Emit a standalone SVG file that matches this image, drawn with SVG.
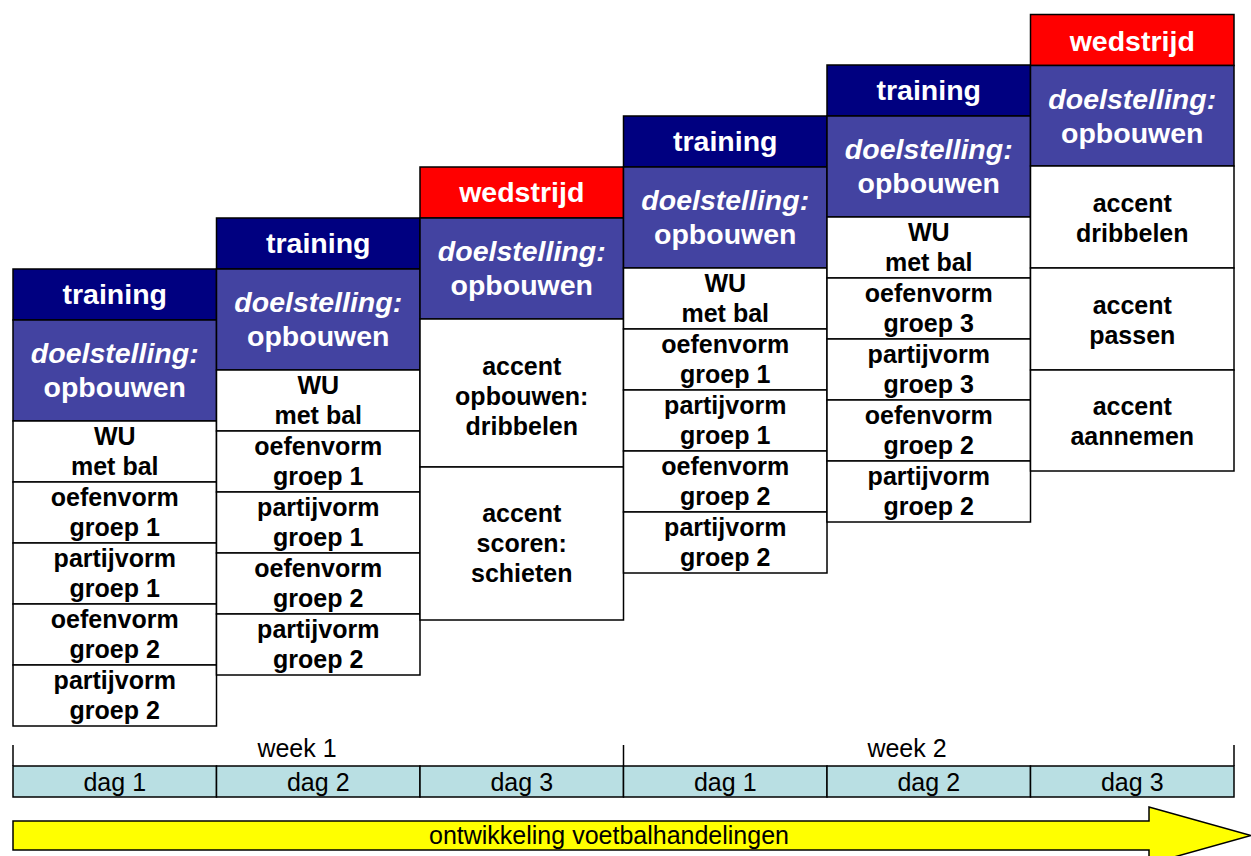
<svg xmlns="http://www.w3.org/2000/svg" width="1251" height="856" viewBox="0 0 1251 856">
<style>
.hd{stroke:#000;stroke-width:1.5}
.tr{fill:#000080}
.wd{fill:#FF0000}
.dl{fill:#4343A1}
.cell{fill:#FFFFFF;stroke:#000;stroke-width:1.5}
.ht{font-family:"Liberation Sans",Arial,sans-serif;font-weight:bold;font-size:28.5px;fill:#FFFFFF;text-anchor:middle}
.it{font-style:italic}
.ct{font-family:"Liberation Sans",Arial,sans-serif;font-weight:bold;font-size:25px;fill:#000;text-anchor:middle}
.dag{fill:#B9DFE3;stroke:#000;stroke-width:1.5}
.nt{font-family:"Liberation Sans",Arial,sans-serif;font-size:25px;fill:#000;text-anchor:middle}
</style>
<rect width="1251" height="856" fill="#FFFFFF"/>

<g id="col1">
<rect class="hd tr" x="13" y="269" width="203.5" height="51"/>
<text class="ht" x="114.75" y="304">training</text>
<rect class="hd dl" x="13" y="320" width="203.5" height="101"/>
<text class="ht"><tspan class="it" x="114.75" y="362.5">doelstelling:</tspan><tspan x="114.75" y="396.5">opbouwen</tspan></text>
<rect class="cell" x="13" y="421" width="203.5" height="61"/>
<text class="ct"><tspan x="114.75" y="445">WU</tspan><tspan x="114.75" y="475">met bal</tspan></text>
<rect class="cell" x="13" y="482" width="203.5" height="61"/>
<text class="ct"><tspan x="114.75" y="506">oefenvorm</tspan><tspan x="114.75" y="536">groep 1</tspan></text>
<rect class="cell" x="13" y="543" width="203.5" height="61"/>
<text class="ct"><tspan x="114.75" y="567">partijvorm</tspan><tspan x="114.75" y="597">groep 1</tspan></text>
<rect class="cell" x="13" y="604" width="203.5" height="61"/>
<text class="ct"><tspan x="114.75" y="628">oefenvorm</tspan><tspan x="114.75" y="658">groep 2</tspan></text>
<rect class="cell" x="13" y="665" width="203.5" height="61"/>
<text class="ct"><tspan x="114.75" y="689">partijvorm</tspan><tspan x="114.75" y="719">groep 2</tspan></text>
</g>

<g id="col2">
<rect class="hd tr" x="216.5" y="218" width="203.5" height="51"/>
<text class="ht" x="318.25" y="253">training</text>
<rect class="hd dl" x="216.5" y="269" width="203.5" height="101"/>
<text class="ht"><tspan class="it" x="318.25" y="311.5">doelstelling:</tspan><tspan x="318.25" y="345.5">opbouwen</tspan></text>
<rect class="cell" x="216.5" y="370" width="203.5" height="61"/>
<text class="ct"><tspan x="318.25" y="394">WU</tspan><tspan x="318.25" y="424">met bal</tspan></text>
<rect class="cell" x="216.5" y="431" width="203.5" height="61"/>
<text class="ct"><tspan x="318.25" y="455">oefenvorm</tspan><tspan x="318.25" y="485">groep 1</tspan></text>
<rect class="cell" x="216.5" y="492" width="203.5" height="61"/>
<text class="ct"><tspan x="318.25" y="516">partijvorm</tspan><tspan x="318.25" y="546">groep 1</tspan></text>
<rect class="cell" x="216.5" y="553" width="203.5" height="61"/>
<text class="ct"><tspan x="318.25" y="577">oefenvorm</tspan><tspan x="318.25" y="607">groep 2</tspan></text>
<rect class="cell" x="216.5" y="614" width="203.5" height="61"/>
<text class="ct"><tspan x="318.25" y="638">partijvorm</tspan><tspan x="318.25" y="668">groep 2</tspan></text>
</g>

<g id="col3">
<rect class="hd wd" x="420" y="167" width="203.5" height="51"/>
<text class="ht" x="521.75" y="202">wedstrijd</text>
<rect class="hd dl" x="420" y="218" width="203.5" height="101"/>
<text class="ht"><tspan class="it" x="521.75" y="260.5">doelstelling:</tspan><tspan x="521.75" y="294.5">opbouwen</tspan></text>
<rect class="cell" x="420" y="319" width="203.5" height="148"/>
<text class="ct"><tspan x="521.75" y="375">accent</tspan><tspan x="521.75" y="405">opbouwen:</tspan><tspan x="521.75" y="435">dribbelen</tspan></text>
<rect class="cell" x="420" y="467" width="203.5" height="153"/>
<text class="ct"><tspan x="521.75" y="522">accent</tspan><tspan x="521.75" y="552">scoren:</tspan><tspan x="521.75" y="582">schieten</tspan></text>
</g>

<g id="col4">
<rect class="hd tr" x="623.5" y="116" width="203.5" height="51"/>
<text class="ht" x="725.25" y="151">training</text>
<rect class="hd dl" x="623.5" y="167" width="203.5" height="101"/>
<text class="ht"><tspan class="it" x="725.25" y="209.5">doelstelling:</tspan><tspan x="725.25" y="243.5">opbouwen</tspan></text>
<rect class="cell" x="623.5" y="268" width="203.5" height="61"/>
<text class="ct"><tspan x="725.25" y="292">WU</tspan><tspan x="725.25" y="322">met bal</tspan></text>
<rect class="cell" x="623.5" y="329" width="203.5" height="61"/>
<text class="ct"><tspan x="725.25" y="353">oefenvorm</tspan><tspan x="725.25" y="383">groep 1</tspan></text>
<rect class="cell" x="623.5" y="390" width="203.5" height="61"/>
<text class="ct"><tspan x="725.25" y="414">partijvorm</tspan><tspan x="725.25" y="444">groep 1</tspan></text>
<rect class="cell" x="623.5" y="451" width="203.5" height="61"/>
<text class="ct"><tspan x="725.25" y="475">oefenvorm</tspan><tspan x="725.25" y="505">groep 2</tspan></text>
<rect class="cell" x="623.5" y="512" width="203.5" height="61"/>
<text class="ct"><tspan x="725.25" y="536">partijvorm</tspan><tspan x="725.25" y="566">groep 2</tspan></text>
</g>

<g id="col5">
<rect class="hd tr" x="827" y="65" width="203.5" height="51"/>
<text class="ht" x="928.75" y="100">training</text>
<rect class="hd dl" x="827" y="116" width="203.5" height="101"/>
<text class="ht"><tspan class="it" x="928.75" y="158.5">doelstelling:</tspan><tspan x="928.75" y="192.5">opbouwen</tspan></text>
<rect class="cell" x="827" y="217" width="203.5" height="61"/>
<text class="ct"><tspan x="928.75" y="241">WU</tspan><tspan x="928.75" y="271">met bal</tspan></text>
<rect class="cell" x="827" y="278" width="203.5" height="61"/>
<text class="ct"><tspan x="928.75" y="302">oefenvorm</tspan><tspan x="928.75" y="332">groep 3</tspan></text>
<rect class="cell" x="827" y="339" width="203.5" height="61"/>
<text class="ct"><tspan x="928.75" y="363">partijvorm</tspan><tspan x="928.75" y="393">groep 3</tspan></text>
<rect class="cell" x="827" y="400" width="203.5" height="61"/>
<text class="ct"><tspan x="928.75" y="424">oefenvorm</tspan><tspan x="928.75" y="454">groep 2</tspan></text>
<rect class="cell" x="827" y="461" width="203.5" height="61"/>
<text class="ct"><tspan x="928.75" y="485">partijvorm</tspan><tspan x="928.75" y="515">groep 2</tspan></text>
</g>

<g id="col6">
<rect class="hd wd" x="1030.5" y="14.5" width="203.5" height="51"/>
<text class="ht" x="1132.25" y="51">wedstrijd</text>
<rect class="hd dl" x="1030.5" y="65.5" width="203.5" height="100.5"/>
<text class="ht"><tspan class="it" x="1132.25" y="109">doelstelling:</tspan><tspan x="1132.25" y="143">opbouwen</tspan></text>
<rect class="cell" x="1030.5" y="166" width="203.5" height="102"/>
<text class="ct"><tspan x="1132.25" y="212">accent</tspan><tspan x="1132.25" y="242">dribbelen</tspan></text>
<rect class="cell" x="1030.5" y="268" width="203.5" height="102"/>
<text class="ct"><tspan x="1132.25" y="314">accent</tspan><tspan x="1132.25" y="344">passen</tspan></text>
<rect class="cell" x="1030.5" y="370" width="203.5" height="101"/>
<text class="ct"><tspan x="1132.25" y="415">accent</tspan><tspan x="1132.25" y="445">aannemen</tspan></text>
</g>

<g id="timeline">
<line x1="13" y1="745" x2="13" y2="766" stroke="#000" stroke-width="1.5"/>
<line x1="623.5" y1="745" x2="623.5" y2="766" stroke="#000" stroke-width="1.5"/>
<line x1="1234" y1="745" x2="1234" y2="766" stroke="#000" stroke-width="1.5"/>
<text class="nt" x="297" y="757">week 1</text>
<text class="nt" x="907" y="757">week 2</text>
<rect class="dag" x="13" y="766" width="203.5" height="31"/>
<rect class="dag" x="216.5" y="766" width="203.5" height="31"/>
<rect class="dag" x="420" y="766" width="203.5" height="31"/>
<rect class="dag" x="623.5" y="766" width="203.5" height="31"/>
<rect class="dag" x="827" y="766" width="203.5" height="31"/>
<rect class="dag" x="1030.5" y="766" width="203.5" height="31"/>
<text class="nt" x="114.75" y="791">dag 1</text>
<text class="nt" x="318.25" y="791">dag 2</text>
<text class="nt" x="521.75" y="791">dag 3</text>
<text class="nt" x="725.25" y="791">dag 1</text>
<text class="nt" x="928.75" y="791">dag 2</text>
<text class="nt" x="1132.25" y="791">dag 3</text>
</g>

<g id="arrow">
<polygon points="13,821 1149,821 1149,807 1251,835.5 1149,864 1149,850 13,850" fill="#FFFF00" stroke="#000" stroke-width="1.5"/>
<text class="nt" x="609" y="844">ontwikkeling voetbalhandelingen</text>
</g>
</svg>
